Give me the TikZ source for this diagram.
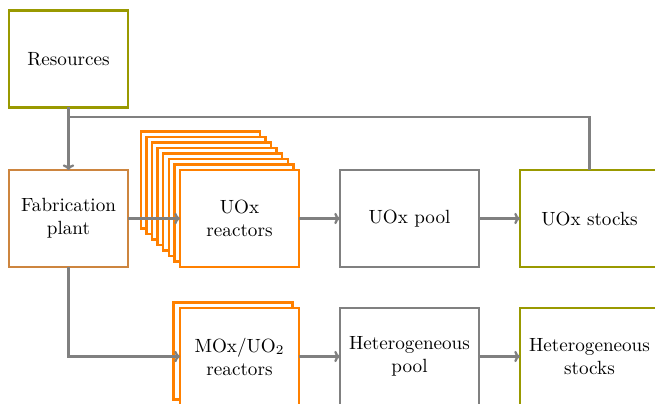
\documentclass[tikz,border=0pt]{standalone}
\usetikzlibrary{arrows.meta}
\definecolor{cOlive}{RGB}{153,153,0}
\definecolor{cPeru}{RGB}{205,133,63}
\definecolor{cOrange}{RGB}{255,128,0}
\definecolor{cGray}{RGB}{128,128,128}
\begin{document}
\begin{tikzpicture}[x=0.523pt,y=-0.523pt,
  box/.style={draw, line width=1.2pt, fill=white, inner sep=0pt, outer sep=0pt,
    minimum width=62.2pt, minimum height=50.6pt, align=center, font=\normalsize},
  wbox/.style={box, minimum width=72.7pt},
  conn/.style={draw=cGray, line width=1.2pt},
  arr/.style={conn, -{To[length=3pt,width=6pt]}}]
\useasboundingbox (0,0) rectangle (655,403);
% top row
\node[box, draw=cOlive] (res) at (68.5,59) {Resources};
\node[box, draw=cPeru] (fab) at (68.5,218.5) {Fabrication\\plant};
\foreach \k in {7,6,...,1} {
  \node[box, draw=cOrange] (uoxr\k) at ({239.5-5.6*\k},{218.5-5.5*\k}) {};
}
\node[box, draw=cOrange] (uoxr) at (239.5,218.5) {UOx\\reactors};
\node[wbox, draw=cGray] (uoxp) at (409.5,218.5) {UOx pool};
\node[wbox, draw=cOlive] (uoxs) at (589.5,218.5) {UOx stocks};
% bottom row
\node[box, draw=cOrange] (moxr1) at (233,351) {};
\node[box, draw=cOrange] (moxr) at (239.5,356.5) {MOx/UO$_2$\\reactors};
\node[wbox, draw=cGray] (hetp) at (409.5,356.5) {Heterogeneous\\pool};
\node[wbox, draw=cOlive] (hets) at (589.5,356.5) {Heterogeneous\\stocks};
% connectors
\coordinate (j1) at (68.5,117);
\coordinate (j2) at (589.5,117);
\draw[arr] (res.south) -- (fab.north);
\draw[conn] (uoxs.north) -- (j2) -- (j1);
\draw[arr] (fab.east) -- (uoxr.west);
\draw[arr] (uoxr.east) -- (uoxp.west);
\draw[arr] (uoxp.east) -- (uoxs.west);
\draw[arr] (fab.south) |- (moxr.west);
\draw[arr] (moxr.east) -- (hetp.west);
\draw[arr] (hetp.east) -- (hets.west);
\end{tikzpicture}
\end{document}
